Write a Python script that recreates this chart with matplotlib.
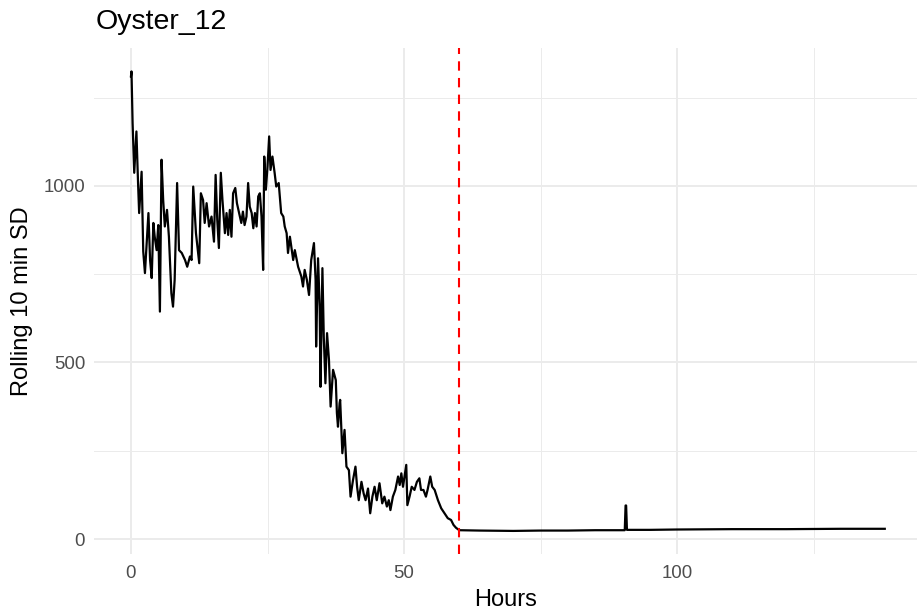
import numpy as np
import matplotlib.pyplot as plt

plt.rcParams['font.family'] = ['Liberation Sans', 'DejaVu Sans']

# values (hours, rolling 10 min SD)
hours = [0.0, 0.1, 0.3, 0.6, 1.0, 1.3, 1.5, 1.95, 2.25, 2.56, 3.2, 3.5, 3.8, 4.1, 4.35,
         4.7, 5.0, 5.3, 5.6, 5.9, 6.2, 6.6, 6.95, 7.4, 7.7, 8.0, 8.45, 8.8, 9.3, 9.9,
         10.3, 10.8, 11.1, 11.4, 11.9, 12.5, 12.8, 13.2, 13.5, 13.85, 14.3, 14.75, 15.2,
         15.5, 15.8, 16.1, 16.45, 16.75, 17.2, 17.5, 17.8, 18.1, 18.4, 18.7, 19.1, 19.4,
         19.8, 20.2, 20.5, 20.8, 21.15, 21.45, 21.75, 22.1, 22.4, 22.7, 23.0, 23.3, 23.6,
         23.9, 24.2, 24.4, 24.7, 25.0, 25.3, 25.55, 25.9, 26.3, 26.6, 27.05, 27.5, 27.9,
         28.15, 28.5, 28.75, 29.1, 29.7, 30.0, 30.6, 31.2, 31.5, 31.8, 32.2, 32.6, 33.0,
         33.5, 33.8, 33.9, 34.25, 34.55, 34.7, 35.05, 35.3, 35.6, 35.9, 36.25, 36.55,
         37.0, 37.5, 37.7, 37.9, 38.2, 38.3, 38.7, 39.1, 39.45, 39.9, 40.2, 40.65, 41.1,
         41.4, 41.7, 42.2, 42.6, 42.95, 43.4, 43.8, 44.2, 44.6, 45.0, 45.5, 46.0, 46.4,
         46.85, 47.2, 47.5, 47.95, 48.4, 48.9, 49.2, 49.5, 49.8, 50.4, 50.6, 51.0, 51.4,
         51.9, 52.35, 52.8, 53.1, 53.55, 54.0, 54.3, 54.8, 55.15, 55.6, 56.2, 56.8, 57.4,
         58.0, 58.6, 59.05, 59.5, 60.1, 63.8, 70.0, 75.0, 80.0, 85.0, 90.4, 90.55, 90.65,
         90.8, 95.0, 100.0, 110.0, 120.0, 130.0, 138.0]
sd = [1310, 1324, 1178, 1037, 1154, 1008, 923, 1040, 814, 753, 923, 790, 739, 895, 856,
      818, 889, 644, 1074, 960, 885, 932, 856, 696, 658, 734, 1008, 818, 810, 790,
      771, 800, 790, 998, 866, 781, 979, 960, 895, 951, 885, 913, 842,
      1031, 904, 824, 1037, 960, 866, 923, 861, 932, 856, 979, 994, 951,
      923, 895, 927, 889, 913, 1008, 941, 923, 880, 923, 885, 970, 979,
      913, 762, 1083, 989, 1055, 1140, 1045, 1083, 1037, 998, 1008, 923, 913,
      885, 866, 810, 856, 790, 818, 771, 743, 715, 762, 734, 691, 790,
      838, 734, 545, 795, 658, 431, 767, 573, 441, 583, 507, 375,
      479, 450, 357, 318, 385, 394, 243, 309, 205, 195, 120, 167, 205,
      148, 110, 162, 129, 110, 143, 73, 120, 148, 110, 158, 101, 120,
      92, 110, 82, 120, 139, 177, 153, 186, 148, 210, 96, 120, 148,
      139, 162, 172, 139, 139, 120, 139, 177, 148, 139, 110, 87, 73,
      59, 54, 40, 32, 25, 24, 23, 24, 24, 25, 25, 95, 95,
      26, 26, 27, 28, 28, 29, 29]
cutoff = 60

fig = plt.figure(figsize=(9.17, 6.12), dpi=100)
ax = fig.add_axes([0.102, 0.0944, 0.898, 0.8264])

ax.plot(hours, sd, color='black', lw=1.6, zorder=3)
ax.axvline(cutoff, color='red', lw=1.5, ls=(0, (4.5, 3.5)), zorder=4)

ax.set_xlim(-6.85, 143.9)
ax.set_ylim(-43, 1389)
ax.set_xticks([0, 50, 100])
ax.set_yticks([0, 500, 1000])
ax.set_xticks([25, 75, 125], minor=True)
ax.set_yticks([250, 750, 1250], minor=True)
ax.grid(True, which='major', color='#EBEBEB', lw=1.4)
ax.grid(True, which='minor', color='#EBEBEB', lw=0.7)
ax.set_axisbelow(True)
for s in ax.spines.values():
    s.set_visible(False)
ax.tick_params(which='both', length=0)
ax.tick_params(axis='x', labelsize=13.4, labelcolor='#4D4D4D', pad=8)
ax.tick_params(axis='y', labelsize=13.4, labelcolor='#4D4D4D', pad=6)

fig.text(0.104, 1 - 22 / 612, 'Oyster_12', fontsize=20.5, va='center', ha='left')
fig.text(506 / 917, 1 - 600 / 612, 'Hours', fontsize=17, va='center', ha='center')
fig.text(22 / 917, 1 - 301 / 612, 'Rolling 10 min SD', fontsize=17, va='center',
         ha='center', rotation=90)

fig.savefig('out.png', dpi=100)
